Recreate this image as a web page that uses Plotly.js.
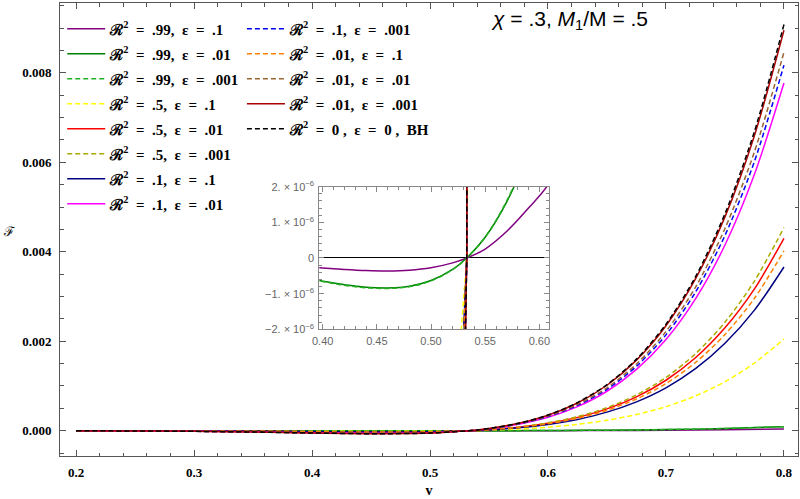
<!DOCTYPE html>
<html><head><meta charset="utf-8">
<script src="https://cdn.plot.ly/plotly-3.0.1.min.js"></script>
<style>html,body{margin:0;padding:0;background:#fff}#c{width:800px;height:499px}</style>
</head><body><div id="c"></div>
<script>
// grid of v values
const vMain = [0.20, 0.25, 0.30, 0.35, 0.40, 0.45, 0.50, 0.525, 0.533, 0.54, 0.55, 0.575, 0.60, 0.625, 0.65, 0.675, 0.70, 0.725, 0.75, 0.775, 0.80];
const vFine = [0.20, 0.25, 0.30, 0.35, 0.40, 0.42, 0.44, 0.46, 0.48, 0.50, 0.52, 0.533, 0.55, 0.57, 0.59, 0.61, 0.65, 0.70, 0.75, 0.80];

// series
const F_R99_e1   = [-1.0e-8, -3.4e-8, -8.5e-8, -1.72e-7, -2.82e-7, -3.23e-7, -3.53e-7, -3.64e-7, -3.42e-7, -2.73e-7, -1.37e-7, 0, 2.52e-7, 7.5e-7, 1.40e-6, 2.14e-6, 4.8e-6, 1.08e-5, 2.13e-5, 3.89e-5];
const F_R99_e01  = [-2.4e-8, -7.9e-8, -1.98e-7, -3.98e-7, -6.5e-7, -7.5e-7, -8.2e-7, -8.4e-7, -7.9e-7, -6.3e-7, -3.2e-7, 0, 5.8e-7, 1.58e-6, 3.0e-6, 4.97e-6, 1.11e-5, 2.49e-5, 4.93e-5, 9.0e-5];
const F_R99_e001 = [-2.5e-8, -8.1e-8, -2.02e-7, -4.06e-7, -6.6e-7, -7.65e-7, -8.35e-7, -8.55e-7, -8.05e-7, -6.4e-7, -3.25e-7, 0, 5.9e-7, 1.61e-6, 3.05e-6, 5.05e-6, 1.13e-5, 2.53e-5, 5.0e-5, 9.15e-5];
const F_R5_e1    = [-3e-7, -1.1e-6, -3.1e-6, -6.6e-6, -1.13e-5, -1.51e-5, -1.2e-5, -3.2e-6, 0, 3.4e-6, 1.13e-5, 3.8e-5, 7.9e-5, 1.42e-4, 2.33e-4, 3.62e-4, 5.38e-4, 7.77e-4, 1.096e-3, 1.512e-3, 2.05e-3];
const F_R5_e01   = [-7e-7, -2.4e-6, -6.4e-6, -1.37e-5, -2.37e-5, -3.18e-5, -2.51e-5, -6.6e-6, 0, 7.1e-6, 2.37e-5, 7.9e-5, 1.66e-4, 2.98e-4, 4.88e-4, 7.58e-4, 1.128e-3, 1.63e-3, 2.30e-3, 3.17e-3, 4.30e-3];
const F_R5_e001  = [-7e-7, -2.5e-6, -6.8e-6, -1.45e-5, -2.5e-5, -3.35e-5, -2.65e-5, -7e-6, 0, 7.5e-6, 2.5e-5, 8.4e-5, 1.76e-4, 3.15e-4, 5.15e-4, 8.0e-4, 1.19e-3, 1.72e-3, 2.425e-3, 3.345e-3, 4.54e-3];
const F_R1_e1    = [-6e-7, -2e-6, -5.4e-6, -1.17e-5, -2e-5, -2.7e-5, -2.14e-5, -5.6e-6, 0, 6e-6, 2e-5, 6.7e-5, 1.41e-4, 2.53e-4, 4.15e-4, 6.45e-4, 9.59e-4, 1.386e-3, 1.955e-3, 2.695e-3, 3.66e-3];
const F_R1_e01   = [-1.2e-6, -4.3e-6, -1.16e-5, -2.48e-5, -4.28e-5, -5.74e-5, -4.54e-5, -1.2e-5, 0, 1.28e-5, 4.28e-5, 1.43e-4, 3.0e-4, 5.38e-4, 8.82e-4, 1.37e-3, 2.037e-3, 2.945e-3, 4.15e-3, 5.73e-3, 7.77e-3];
const F_R1_e001  = [-1.3e-6, -4.5e-6, -1.22e-5, -2.61e-5, -4.5e-5, -6.03e-5, -4.77e-5, -1.26e-5, 0, 1.35e-5, 4.5e-5, 1.5e-4, 3.16e-4, 5.66e-4, 9.27e-4, 1.44e-3, 2.142e-3, 3.096e-3, 4.365e-3, 6.02e-3, 8.17e-3];
const F_R01_e1   = [-6e-7, -2.2e-6, -6e-6, -1.28e-5, -2.2e-5, -2.97e-5, -2.35e-5, -6.2e-6, 0, 6.6e-6, 2.2e-5, 7.4e-5, 1.55e-4, 2.79e-4, 4.56e-4, 7.09e-4, 1.054e-3, 1.524e-3, 2.15e-3, 2.96e-3, 4.02e-3];
const F_R01_e01  = [-1.3e-6, -4.7e-6, -1.26e-5, -2.7e-5, -4.66e-5, -6.24e-5, -4.94e-5, -1.3e-5, 0, 1.4e-5, 4.66e-5, 1.56e-4, 3.27e-4, 5.86e-4, 9.6e-4, 1.491e-3, 2.218e-3, 3.206e-3, 4.52e-3, 6.235e-3, 8.46e-3];
const F_R01_e001 = [-1.4e-6, -4.9e-6, -1.33e-5, -2.86e-5, -4.93e-5, -6.61e-5, -5.23e-5, -1.38e-5, 0, 1.48e-5, 4.93e-5, 1.65e-4, 3.46e-4, 6.20e-4, 1.016e-3, 1.578e-3, 2.347e-3, 3.392e-3, 4.78e-3, 6.60e-3, 8.95e-3];
const F_BH       = [-1.4e-6, -5e-6, -1.35e-5, -2.9e-5, -5e-5, -6.7e-5, -5.3e-5, -1.4e-5, 0, 1.5e-5, 5.0e-5, 1.67e-4, 3.51e-4, 6.29e-4, 1.03e-3, 1.60e-3, 2.38e-3, 3.44e-3, 4.85e-3, 6.69e-3, 9.08e-3];

const seriesLabels = [
  'ℛ<sup>2</sup>  =  .99,  ε  =  .1', 'ℛ<sup>2</sup>  =  .99,  ε  =  .01', 'ℛ<sup>2</sup>  =  .99,  ε  =  .001',
  'ℛ<sup>2</sup>  =  .5,  ε  =  .1', 'ℛ<sup>2</sup>  =  .5,  ε  =  .01', 'ℛ<sup>2</sup>  =  .5,  ε  =  .001',
  'ℛ<sup>2</sup>  =  .1,  ε  =  .1', 'ℛ<sup>2</sup>  =  .1,  ε  =  .01', 'ℛ<sup>2</sup>  =  .1,  ε  =  .001',
  'ℛ<sup>2</sup>  =  .01,  ε  =  .1', 'ℛ<sup>2</sup>  =  .01,  ε  =  .01', 'ℛ<sup>2</sup>  =  .01,  ε  =  .001',
  'ℛ<sup>2</sup>  =  0 ,  ε  =  0 ,  BH'
];
const seriesY = [F_R99_e1, F_R99_e01, F_R99_e001, F_R5_e1, F_R5_e01, F_R5_e001, F_R1_e1, F_R1_e01, F_R1_e001, F_R01_e1, F_R01_e01, F_R01_e001, F_BH];
const seriesX = [vFine, vFine, vFine, vMain, vMain, vMain, vMain, vMain, vMain, vMain, vMain, vMain, vMain];
const colors = ['#800080', '#008000', '#22b022', '#ffff00', '#ff0000', '#aaaa00', '#000080', '#ff00ff', '#0000ff', '#ff8000', '#996633', '#aa0000', '#000000'];
const dashed = [false, false, true, true, false, true, false, false, true, true, true, false, true];

const traces = [];
seriesY.forEach((y, i) => {
  traces.push({
    type: 'scatter', mode: 'lines', x: seriesX[i], y: y, name: seriesLabels[i],
    legend: i < 8 ? 'legend' : 'legend2', legendgroup: 'g' + i,
    line: {color: colors[i], width: 1.5, dash: dashed[i] ? '5px,3px' : 'solid', shape: 'spline', smoothing: 0.8},
    xaxis: 'x', yaxis: 'y', hoverinfo: 'skip'
  });
});
seriesY.forEach((y, i) => {
  traces.push({
    type: 'scatter', mode: 'lines', x: seriesX[i], y: y, showlegend: false,
    line: {color: colors[i], width: 1.5, dash: dashed[i] ? '5px,3px' : 'solid', shape: i < 3 ? 'spline' : 'linear'},
    xaxis: 'x2', yaxis: 'y2', hoverinfo: 'skip'
  });
});

const tickFont = {family: 'Liberation Serif', size: 13, color: '#000', weight: 'bold'};
const insetFont = {family: 'Liberation Sans', size: 11, color: '#666'};
const legFont = {family: 'Liberation Serif', size: 15, color: '#000', weight: 'bold'};

const layout = {
  width: 800, height: 499,
  margin: {l: 60, r: 2, t: 3, b: 43},
  paper_bgcolor: '#fff', plot_bgcolor: '#fff',
  showlegend: true,
  xaxis: {
    domain: [0, 1], range: [0.1864, 0.8119], tickvals: [0.2, 0.3, 0.4, 0.5, 0.6, 0.7, 0.8], tickformat: '.1f',
    ticks: 'inside', ticklen: 6, tickcolor: '#555', showline: true, linecolor: '#555', linewidth: 1, mirror: 'allticks',
    minor: {dtick: 0.02, ticks: 'inside', ticklen: 3.5, tickcolor: '#555'},
    showgrid: false, zeroline: false, tickfont: tickFont, ticklabelstandoff: 4,
    title: {text: 'v', font: {family: 'Liberation Serif', size: 14, color: '#000', weight: 'bold'}, standoff: 6},
    anchor: 'y'
  },
  yaxis: {
    domain: [0, 1], range: [-0.000565, 0.00956], dtick: 0.002, tick0: 0, tickformat: '.3f',
    ticks: 'inside', ticklen: 6, tickcolor: '#555', showline: true, linecolor: '#555', linewidth: 1, mirror: 'allticks',
    minor: {dtick: 0.0005, ticks: 'inside', ticklen: 3.5, tickcolor: '#555'},
    showgrid: false, zeroline: false, tickfont: tickFont, ticklabelstandoff: 5,
    anchor: 'x'
  },
  xaxis2: {
    domain: [0.3514, 0.663], range: [0.3969, 0.6092], dtick: 0.05, tick0: 0.4, tickformat: '.2f',
    ticks: 'inside', ticklen: 5, tickcolor: '#888', showline: true, linecolor: '#888', linewidth: 1, mirror: 'allticks',
    minor: {dtick: 0.01, ticks: 'inside', ticklen: 3, tickcolor: '#888'},
    showgrid: false, zeroline: false, tickfont: insetFont, ticklabelstandoff: 2, anchor: 'y2'
  },
  yaxis2: {
    domain: [0.2797, 0.5945], range: [-2e-6, 2e-6],
    tickvals: [-2e-6, -1e-6, 0, 1e-6, 2e-6],
    ticktext: ['−2. × 10<sup>−6</sup>', '−1. × 10<sup>−6</sup>', '0', '1. × 10<sup>−6</sup>', '2. × 10<sup>−6</sup>'],
    ticks: 'inside', ticklen: 5, tickcolor: '#888', showline: true, linecolor: '#888', linewidth: 1, mirror: 'allticks',
    minor: {dtick: 2e-7, tick0: 0, ticks: 'inside', ticklen: 3, tickcolor: '#888'},
    showgrid: false, zeroline: true, zerolinecolor: '#000', zerolinewidth: 1,
    tickfont: insetFont, ticklabelstandoff: 2, anchor: 'x2'
  },
  legend: {x: 0.003, y: 0.979, xanchor: 'left', yanchor: 'top', bgcolor: 'rgba(0,0,0,0)', font: legFont, tracegroupgap: 2.5, itemwidth: 38, traceorder: 'grouped'},
  legend2: {x: 0.2465, y: 0.979, xanchor: 'left', yanchor: 'top', bgcolor: 'rgba(0,0,0,0)', font: legFont, tracegroupgap: 2.5, itemwidth: 38, traceorder: 'grouped'},
  annotations: [
    {xref: 'paper', yref: 'paper', x: 0.581, y: 0.9625, xanchor: 'left', yanchor: 'middle', showarrow: false,
     text: '<i>χ</i> = .3, <i>M</i><sub>1</sub>/M = .5', font: {family: 'Liberation Sans', size: 21, color: '#000'}},
    {xref: 'paper', yref: 'paper', x: -0.0678, y: 0.4945, xanchor: 'center', yanchor: 'middle', showarrow: false,
     text: 'ℱ', font: {family: 'DejaVu Serif', size: 13, color: '#000'}}
  ]
};

Plotly.newPlot('c', traces, layout, {displayModeBar: false, staticPlot: true});
</script>
</body></html>
